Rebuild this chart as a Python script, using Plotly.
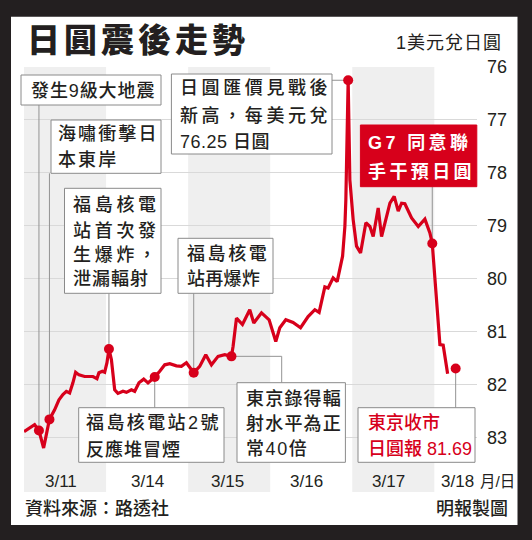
import plotly.graph_objects as go

# x = position in trading-day columns (0 = 3/11 column), y = yen per US dollar
day_pos = [0.0, 0.129, 0.182, 0.239, 0.31, 0.373, 0.426, 0.474, 0.516, 0.556,
           0.596, 0.629, 0.67, 0.739, 0.84, 0.889, 0.913, 0.955, 0.983, 1.011,
           1.035, 1.065, 1.105, 1.145, 1.206, 1.248, 1.309, 1.349, 1.401, 1.459,
           1.511, 1.552, 1.593, 1.654, 1.715, 1.776, 1.857, 1.918, 1.979, 2.068,
           2.141, 2.215, 2.284, 2.365, 2.446, 2.528, 2.548, 2.589, 2.662, 2.751,
           2.8, 2.894, 2.987, 3.068, 3.117, 3.19, 3.279, 3.37, 3.462, 3.544,
           3.596, 3.666, 3.706, 3.767, 3.816, 3.882, 3.91, 3.922, 3.95, 3.971,
           4.011, 4.052, 4.101, 4.166, 4.215, 4.255, 4.316, 4.357, 4.459, 4.511,
           4.56, 4.601, 4.641, 4.723, 4.804, 4.885, 4.946, 4.975, 4.987, 5.068,
           5.108, 5.162]
usd_jpy = [82.88, 82.75, 82.86, 83.19, 82.65, 82.47, 82.28, 82.18, 82.12, 82.15,
           81.96, 81.76, 81.81, 81.84, 81.84, 81.88, 81.77, 81.74, 81.76, 81.58,
           81.32, 81.52, 82.09, 82.16, 82.12, 82.14, 82.09, 82.12, 81.96, 81.89,
           81.96, 81.90, 81.85, 81.74, 81.62, 81.60, 81.64, 81.65, 81.58, 81.77,
           81.65, 81.43, 81.62, 81.46, 81.43, 81.46, 81.27, 80.74, 80.86, 80.58,
           80.83, 80.64, 80.77, 81.18, 80.92, 80.77, 80.82, 80.92, 80.71, 80.58,
           80.63, 80.15, 80.17, 79.98, 80.05, 79.57, 79.01, 78.50, 76.25, 78.13,
           78.88, 79.38, 79.51, 78.94, 79.01, 79.20, 78.66, 79.20, 78.57, 78.44,
           78.72, 78.57, 78.58, 78.85, 79.01, 78.87, 79.13, 79.33, 79.57, 81.24,
           81.25, 81.79]

# events marked with dots on the line
event_day = [0.182, 0.31, 1.035, 1.593, 2.068, 2.528, 3.95, 4.975]
event_val = [82.86, 82.65, 81.32, 81.85, 81.77, 81.46, 76.25, 79.33]
close_day = 5.26
close_val = 81.69

date_labels = ["3/11", "3/14", "3/15", "3/16", "3/17", "3/18"]
date_label_pos = [0.45, 1.506, 2.478, 3.448, 4.441, 5.28]
shaded_days = [0, 2, 4]
y_ticks = [76, 77, 78, 79, 80, 81, 82, 83]

note_texts = [
    ["發生9級大地震"],
    ["海嘯衝擊日", "本東岸"],
    ["福島核電", "站首次發", "生爆炸，", "泄漏輻射"],
    ["福島核電站2號", "反應堆冒煙"],
    ["福島核電", "站再爆炸"],
    ["東京錄得輻", "射水平為正", "常40倍"],
    ["日圓匯價見戰後", "新高，每美元兌", "76.25 日圓"],
    ["G7 同意聯", "手干預日圓"],
    ["東京收市", "日圓報 81.69"],
]

# ---- layout helpers (pixel positions in the 532x540 picture)
W, H = 532, 540
ML, MR, MT, MB = 24, 55, 67, 48
PW, PH = W - ML - MR, H - MT - MB
X_RANGE = [0, 5.52]
Y_RANGE = [84.02, 76]

RED = "#d7001b"
GREY_LINE = "#939393"
BOX_LINE = "#8a8a8a"
INK = "#231f20"
FONT = "Liberation Sans, Noto Sans CJK TC, sans-serif"


def xp(px):
    return (px - ML) / PW


def yp(py):
    return (H - MB - py) / PH


def px_day(px):
    return X_RANGE[0] + (px - ML) / PW * (X_RANGE[1] - X_RANGE[0])


def py_val(py):
    return Y_RANGE[1] + (py - MT) / PH * (Y_RANGE[0] - Y_RANGE[1])


def spaced(t, sp):
    if not sp:
        return t
    return '<span style="letter-spacing:%spx">%s</span>' % (sp, t)


# box rectangles (x0, y0, x1, y1), first text x, line centres, letter spacing per line
boxes = [
    dict(r=(21, 75, 161, 105), tx=28.5, ty=[90.5], sp=[0.9]),
    dict(r=(51, 120, 161, 173.3), tx=56, ty=[134, 160], sp=[2.1, 2.1]),
    dict(r=(64.5, 188.3, 161, 293.3), tx=71, ty=[205, 231, 255.5, 279], sp=[3.7, 3.7, 3.7, 1]),
    dict(r=(78.7, 407.7, 224, 462.3), tx=84, ty=[423.3, 449], sp=[2.4, 1]),
    dict(r=(178, 238.3, 273, 293.3), tx=185, ty=[254, 279], sp=[2.6, 0.3]),
    dict(r=(237, 382.7, 345.4, 462.3), tx=244, ty=[399, 424, 449], sp=[1.2, 1.2, 1.6]),
    dict(r=(171.4, 74, 332, 154), tx=178, ty=[88, 116, 142], sp=[3.6, 3.6, 0.5]),
    dict(r=(360.4, 125, 476.8, 186.7), tx=366, ty=[142.5, 171.5], sp=[3.4, 3.4],
         fill=RED, color="white", bold=True),
    dict(r=(358, 407.7, 475, 462.3), tx=365.5, ty=[423, 449], sp=[0, 0], color=RED),
]

# leader from each event dot to its box: ("v", box edge y) or ("h", box edge x) or ("hv", x, y)
leaders = [("v", 105), ("v", 173.3), ("v", 293.3), ("v", 407.7), ("v", 293.3),
           ("hv", 281.7, 382.7), ("h", 332), ("v", 186.7)]

lx, ly = [], []
for d, v, ld in zip(event_day, event_val, leaders):
    if ld[0] == "v":
        lx += [d, d, None]
        ly += [v, py_val(ld[1]), None]
    elif ld[0] == "h":
        lx += [d, px_day(ld[1]), None]
        ly += [v, v, None]
    else:
        lx += [d, px_day(ld[1]), px_day(ld[1]), None]
        ly += [v, v, py_val(ld[2]), None]
lx += [close_day, close_day, None]
ly += [close_val, py_val(407.7), None]

fig = go.Figure()
fig.add_trace(go.Scatter(x=lx, y=ly, mode="lines", line=dict(color=GREY_LINE, width=1),
                         hoverinfo="skip", showlegend=False))
fig.add_trace(go.Scatter(x=day_pos, y=usd_jpy, mode="lines",
                         line=dict(color=RED, width=3.2, shape="linear"), showlegend=False))
fig.add_trace(go.Scatter(x=event_day + [close_day], y=event_val + [close_val], mode="markers",
                         marker=dict(color=RED, size=10), showlegend=False))

shapes = []
# white panel inside the dark frame
shapes.append(dict(type="rect", xref="paper", yref="paper", x0=xp(11), x1=xp(517.5),
                   y0=yp(525), y1=yp(16.7), fillcolor="white", line=dict(width=0), layer="below"))
for d in shaded_days:
    shapes.append(dict(type="rect", xref="x", yref="paper", x0=d, x1=d + 1, y0=0, y1=1,
                       fillcolor="#efefef", line=dict(width=0), layer="below"))

annotations = []
for b, lines in zip(boxes, note_texts):
    x0, y0, x1, y1 = b["r"]
    shapes.append(dict(type="rect", xref="paper", yref="paper", x0=xp(x0), x1=xp(x1),
                       y0=yp(y1), y1=yp(y0), fillcolor=b.get("fill", "white"),
                       line=dict(color=b.get("fill", BOX_LINE), width=1)))
    for t, cy, sp in zip(lines, b["ty"], b["sp"]):
        annotations.append(dict(
            text=spaced(t, sp), xref="paper", yref="paper", x=xp(b["tx"]), y=yp(cy),
            xanchor="left", yanchor="middle", showarrow=False,
            font=dict(family=FONT, size=18, color=b.get("color", INK),
                      weight=700 if b.get("bold") else 500)))

for t, d in zip(date_labels, date_label_pos):
    annotations.append(dict(text=t, xref="x", yref="paper", x=d, y=yp(481.7),
                            xanchor="center", yanchor="middle", showarrow=False,
                            font=dict(family=FONT, size=17, color=INK)))
annotations.append(dict(text="月/日", xref="paper", yref="paper", x=xp(478.5), y=yp(481.7),
                        xanchor="left", yanchor="middle", showarrow=False,
                        font=dict(family=FONT, size=15.5, color=INK)))

# title, unit, footer
annotations.append(dict(text=spaced("日圓震後走勢", 4), xref="paper", yref="paper",
                        x=xp(25), y=yp(40.5), xanchor="left", yanchor="middle", showarrow=False,
                        font=dict(family=FONT, size=33, color=INK, weight=900)))
annotations.append(dict(text=spaced("1美元兌日圓", 1), xref="paper", yref="paper", x=xp(504),
                        y=yp(42.5), xanchor="right", yanchor="middle", showarrow=False,
                        font=dict(family=FONT, size=18, color=INK)))
annotations.append(dict(text="資料來源：路透社", xref="paper", yref="paper", x=xp(23), y=yp(508.5),
                        xanchor="left", yanchor="middle", showarrow=False,
                        font=dict(family=FONT, size=18, color=INK, weight=500)))
annotations.append(dict(text="明報製圖", xref="paper", yref="paper", x=xp(510), y=yp(508.5),
                        xanchor="right", yanchor="middle", showarrow=False,
                        font=dict(family=FONT, size=18, color=INK, weight=500)))

fig.update_layout(
    width=W, height=H,
    margin=dict(l=ML, r=MR, t=MT, b=MB, pad=0),
    paper_bgcolor=INK,
    plot_bgcolor="rgba(0,0,0,0)",
    shapes=shapes,
    annotations=annotations,
    showlegend=False,
    xaxis=dict(range=X_RANGE, showgrid=False, zeroline=False, showticklabels=False,
               showline=False, ticks="", fixedrange=True),
    yaxis=dict(range=Y_RANGE, side="right", tickvals=y_ticks, showgrid=True,
               gridcolor="#d9d9d9", gridwidth=1, zeroline=False, showline=False, ticks="",
               ticklabelstandoff=9, tickfont=dict(family=FONT, size=18, color=INK),
               fixedrange=True),
)

# page body has an 8px default margin; drop it so the figure fills the window
fig.write_html("out.html", config={"displayModeBar": False},
               post_script="document.body.style.margin='0';document.body.style.background='%s';" % INK)
